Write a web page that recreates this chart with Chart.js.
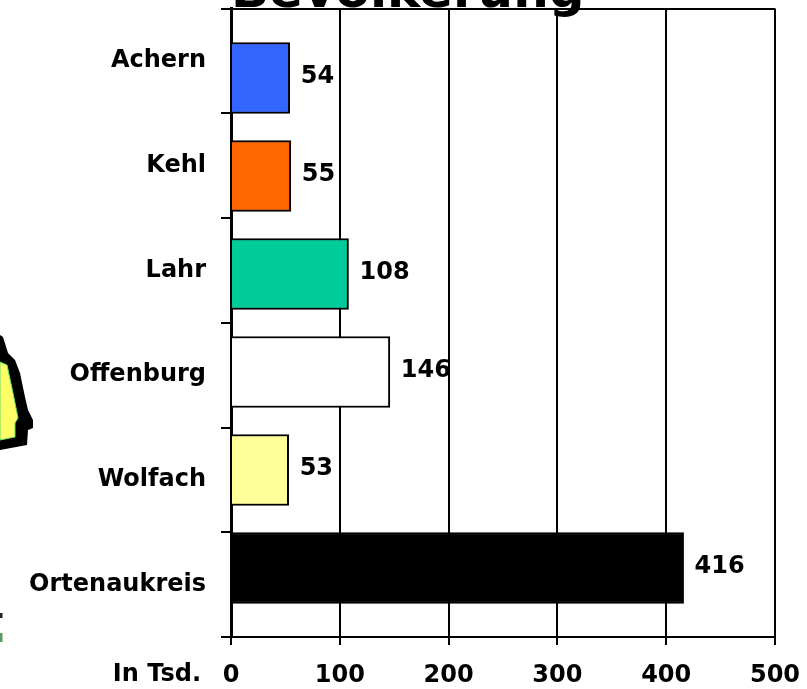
<!DOCTYPE html>
<html>
<head>
<meta charset="utf-8">
<script src="https://cdn.jsdelivr.net/npm/chart.js@4/dist/chart.umd.min.js"></script>
<style>
  html, body { margin: 0; padding: 0; background: #fff; }
  #wrap { position: relative; width: 807px; height: 689px; overflow: hidden; }
  #map { position: absolute; left: 0; top: 0; }
  #c { position: absolute; left: 0; top: 0; }
</style>
</head>
<body>
<div id="wrap">
  <!-- Rest der Kreiskarte links neben dem Diagramm -->
  <svg id="map" width="807" height="689">
    <path d="M0,335 L3,337 L8,353 L15,360 L20,373 L25,397 L28,410 L33,420 L33,428 L28,430 L27,445 L0,450 Z" fill="#000"/>
    <path d="M0,362 L7,365 L13,393 L18,418 L15,423 L15,437 L0,440 Z" fill="#ffff66" stroke="#66dd66" stroke-width="1"/>
    <path d="M1,613 L1,618" stroke="#222" stroke-width="3"/>
    <path d="M1,633 L1,642" stroke="#5a9a5a" stroke-width="3"/>
  </svg>
  <canvas id="c" width="807" height="689"></canvas>
</div>
<script>
const titleText  = 'Bevölkerung';
const unitLabel  = 'In Tsd.';
const categories = ['Achern', 'Kehl', 'Lahr', 'Offenburg', 'Wolfach', 'Ortenaukreis'];
const values     = [54, 55, 108, 146, 53, 416];
const barColors  = ['#3366ff', '#ff6600', '#00cc99', '#ffffff', '#ffff99', '#000000'];
const xTicks     = [0, 100, 200, 300, 400, 500];

const FONT = { family: "'DejaVu Sans'", size: 24, weight: 'bold' };

// Wertbeschriftung rechts neben den Balken, dazu "In Tsd." links der x-Achse
const valueLabels = {
  id: 'valueLabels',
  afterDatasetsDraw(chart) {
    const ctx = chart.ctx;
    ctx.save();
    ctx.fillStyle = '#000';
    ctx.font = `bold ${FONT.size}px ${FONT.family}`;
    ctx.textBaseline = 'middle';
    ctx.textAlign = 'left';
    chart.getDatasetMeta(0).data.forEach((bar, i) => {
      ctx.fillText(values[i], bar.x + 11, bar.y - 1);
    });
    ctx.textAlign = 'right';
    ctx.fillText(unitLabel, 201, 675);
    ctx.restore();
  }
};

new Chart(document.getElementById('c'), {
  type: 'bar',
  plugins: [valueLabels],
  data: {
    labels: categories,
    datasets: [{
      yAxisID: 'yBars',
      data: values.map((v, i) => ({ x: v, y: i })),
      backgroundColor: barColors,
      borderColor: '#000',
      borderWidth: 2,
      barThickness: 71,
    }]
  },
  options: {
    indexAxis: 'y',
    responsive: false,
    animation: false,
    layout: { padding: { right: 32 } },
    plugins: {
      legend: { display: false },
      tooltip: { enabled: false },
      title: {
        display: true,
        text: titleText,
        align: 'start',
        fullSize: false,
        color: '#000',
        font: { family: "'DejaVu Sans'", size: 50, weight: 'bold' },
        padding: { top: -36, bottom: -15.5 },
      }
    },
    scales: {
      x: {
        min: xTicks[0], max: xTicks[xTicks.length - 1],
        afterBuildTicks: s => { s.ticks = xTicks.map(v => ({ value: v })); },
        afterFit: s => { s.height = 52; s.paddingLeft = 0; s.paddingRight = 0; },
        grid: { color: '#000', lineWidth: 2, tickLength: 8, tickColor: '#000' },
        border: { color: '#000', width: 2 },
        ticks: { color: '#000', font: FONT, padding: 16, maxRotation: 0 },
      },
      y: {
        type: 'category',
        offset: true,
        // Randabstand der Beschriftung nicht in den Layout-Rand einrechnen
        afterFit: s => { s.width = 231; s.paddingTop = 0; s.paddingBottom = 0; },
        grid: {
          offset: true,
          lineWidth: 2,
          tickLength: 10,
          tickColor: '#000',
          color: c => (c.index === 0 || c.index === categories.length) ? '#000' : 'rgba(0,0,0,0)',
        },
        border: { color: '#000', width: 3 },
        ticks: { color: '#000', font: FONT, padding: 15 },
      },
      // Balken sitzen im Original enger als die Kategorien der Achse
      yBars: {
        type: 'linear',
        display: false,
        offset: false,
        reverse: true,
        min: -0.709,
        max: 5.704,
      }
    }
  }
});
</script>
</body>
</html>
